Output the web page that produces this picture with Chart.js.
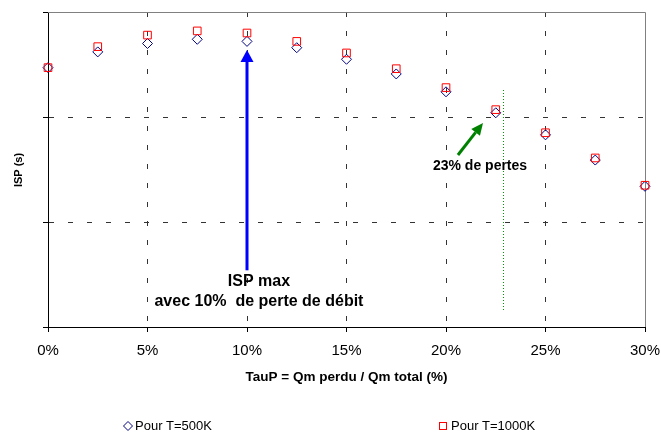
<!DOCTYPE html>
<html>
<head>
<meta charset="utf-8">
<script src="https://cdn.jsdelivr.net/npm/chart.js@4/dist/chart.umd.min.js"></script>
<style>
  html, body { margin: 0; padding: 0; background: #fff; }
  #wrap { width: 661px; height: 433px; }
</style>
</head>
<body>
<div id="wrap"><canvas id="isp" width="661" height="433"></canvas></div>
<script>
// TauP (%) and ISP for the two temperatures (y axis has no printed scale)
const tauP = [0, 2.5, 5, 7.5, 10, 12.5, 15, 17.5, 20, 22.5, 25, 27.5, 30];
const isp500 = [2.47, 2.62, 2.70, 2.74, 2.72, 2.66, 2.55, 2.41, 2.24, 2.04, 1.83, 1.59, 1.34];
const isp1000 = [2.47, 2.67, 2.78, 2.82, 2.80, 2.72, 2.61, 2.46, 2.28, 2.07, 1.85, 1.61, 1.35];
const legendLabels = ['Pour T=500K', 'Pour T=1000K'];

const FONT = '"Liberation Sans", Arial, sans-serif';

const toPoints = (ys) => ys.map((y, i) => ({ x: tauP[i], y }));

function drawArrow(ctx, x1, y1, x2, y2, color, width, headLen, headW) {
  const ang = Math.atan2(y2 - y1, x2 - x1);
  const bx = x2 - Math.cos(ang) * headLen;
  const by = y2 - Math.sin(ang) * headLen;
  ctx.save();
  ctx.strokeStyle = color;
  ctx.fillStyle = color;
  ctx.lineWidth = width;
  ctx.beginPath();
  ctx.moveTo(x1, y1);
  ctx.lineTo(bx, by);
  ctx.stroke();
  ctx.beginPath();
  ctx.moveTo(x2, y2);
  ctx.lineTo(bx + Math.sin(ang) * headW / 2, by - Math.cos(ang) * headW / 2);
  ctx.lineTo(bx - Math.sin(ang) * headW / 2, by + Math.cos(ang) * headW / 2);
  ctx.closePath();
  ctx.fill();
  ctx.restore();
}

const extras = {
  id: 'extras',
  beforeDatasetsDraw(chart) {
    const { ctx, chartArea: a } = chart;
    // top and right frame
    ctx.save();
    ctx.strokeStyle = '#808080';
    ctx.lineWidth = 1;
    ctx.beginPath();
    ctx.moveTo(a.left, a.top + 0.5);
    ctx.lineTo(a.right + 0.5, a.top + 0.5);
    ctx.lineTo(a.right + 0.5, a.bottom);
    ctx.stroke();
    ctx.restore();
  },
  afterDatasetsDraw(chart) {
    const { ctx } = chart;
    const xs = chart.scales.x, ys = chart.scales.y;
    const px = (v) => xs.getPixelForValue(v);
    const py = (v) => ys.getPixelForValue(v);

    // 23% limit
    ctx.save();
    ctx.strokeStyle = '#009900';
    ctx.lineWidth = 1;
    ctx.setLineDash([1, 2]);
    ctx.beginPath();
    ctx.moveTo(Math.round(px(22.86)) + 0.5, py(2.257));
    ctx.lineTo(Math.round(px(22.86)) + 0.5, py(0.162));
    ctx.stroke();
    ctx.restore();

    drawArrow(ctx, px(10), py(0.54), px(10), py(2.638), '#0000ff', 3, 12, 13);
    drawArrow(ctx, px(20.6), py(1.638), px(21.86), py(1.943), '#008000', 3, 12, 11);

    ctx.save();
    ctx.fillStyle = '#000';
    ctx.textAlign = 'center';
    ctx.textBaseline = 'middle';
    ctx.font = 'bold 16px ' + FONT;
    ctx.fillText('ISP max', px(10.6), py(0.429));
    ctx.fillText('avec 10%  de perte de débit', px(10.6), py(0.238));
    ctx.font = 'bold 14px ' + FONT;
    ctx.fillText('23% de pertes', px(21.71), py(1.533));

    // axis titles
    ctx.font = 'bold 13.5px ' + FONT;
    ctx.fillText('TauP = Qm perdu / Qm total (%)', (chart.chartArea.left + chart.chartArea.right) / 2, 377);
    ctx.translate(19, 170);
    ctx.rotate(-Math.PI / 2);
    ctx.font = 'bold 11px ' + FONT;
    ctx.fillText('ISP (s)', 0, 0);
    ctx.restore();

    // legend
    ctx.save();
    ctx.lineWidth = 1;
    ctx.strokeStyle = '#000080';
    ctx.beginPath();
    ctx.moveTo(128, 421.5); ctx.lineTo(132.5, 426); ctx.lineTo(128, 430.5); ctx.lineTo(123.5, 426);
    ctx.closePath();
    ctx.stroke();
    ctx.strokeStyle = '#ff0000';
    ctx.strokeRect(439.5, 422.5, 7, 7);
    ctx.fillStyle = '#000';
    ctx.font = '13px ' + FONT;
    ctx.textBaseline = 'middle';
    ctx.textAlign = 'left';
    ctx.fillText(legendLabels[0], 135, 426);
    ctx.fillText(legendLabels[1], 451, 426);
    ctx.restore();
  }
};

const edgeTransparent = (max) => (c) => (c.tick && (c.tick.value === 0 || c.tick.value === max)) ? 'rgba(0,0,0,0)' : '#333';

new Chart(document.getElementById('isp'), {
  type: 'scatter',
  data: {
    datasets: [
      {
        label: legendLabels[1],
        data: toPoints(isp1000),
        pointStyle: 'rect',
        pointRadius: 5.4,
        pointHoverRadius: 5.4,
        borderColor: '#ff0000',
        backgroundColor: 'rgba(0,0,0,0)',
        borderWidth: 1,
        clip: false
      },
      {
        label: legendLabels[0],
        data: toPoints(isp500),
        pointStyle: 'rectRot',
        pointRadius: 5,
        pointHoverRadius: 5,
        borderColor: '#000080',
        backgroundColor: 'rgba(0,0,0,0)',
        borderWidth: 1,
        clip: false
      }
    ]
  },
  options: {
    responsive: false,
    animation: false,
    events: [],
    layout: { padding: { left: 0, right: 16, top: 12, bottom: 0 } },
    plugins: { legend: { display: false }, tooltip: { enabled: false } },
    scales: {
      x: {
        type: 'linear',
        min: 0,
        max: 30,
        afterFit: (s) => { s.height = 106; s.paddingLeft = 0; s.paddingRight = 0; },
        ticks: {
          stepSize: 5,
          padding: 10,
          color: '#000',
          font: { family: FONT, size: 15 },
          callback: (v) => v + '%'
        },
        grid: { color: edgeTransparent(30), tickColor: '#000', tickLength: 5, lineWidth: 1 },
        border: { display: true, color: '#000', width: 1, dash: [5, 14] }
      },
      y: {
        min: 0,
        max: 3,
        afterFit: (s) => { s.width = 48; s.paddingTop = 0; s.paddingBottom = 0; },
        ticks: { stepSize: 1, display: false },
        grid: { color: edgeTransparent(3), tickColor: '#000', tickLength: 5, lineWidth: 1 },
        border: { display: true, color: '#000', width: 1, dash: [5, 14] }
      }
    }
  },
  plugins: [extras]
});
</script>
</body>
</html>
